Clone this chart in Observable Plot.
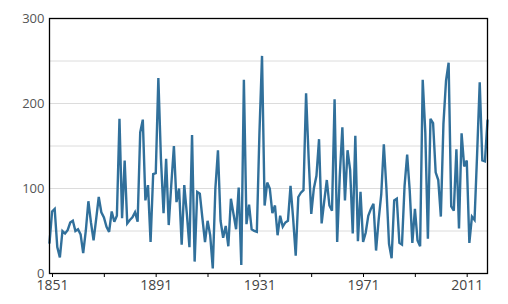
<!DOCTYPE html>
<html>
<head>
<meta charset="utf-8">
<script src="https://cdn.jsdelivr.net/npm/d3@7"></script>
<script src="https://cdn.jsdelivr.net/npm/@observablehq/plot@0.6"></script>
<style>
  html, body { margin: 0; padding: 0; background: #fff; }
  #chart svg { display: block; }
</style>
</head>
<body>
<div id="chart"></div>
<script>
// Years shown on the horizontal axis (one value per year)
const firstYear = 1851;
const lastYear = 2020;
const years = d3.range(firstYear, lastYear + 1);

// Series values, 1851 → 2020
const values = [
  36, 73, 76, 31, 19, 50, 47, 51, 60, 62,      // 1851-1860
  50, 52, 46, 24, 50, 85, 60, 39, 64, 90,      // 1861-1870
  72, 66, 55, 49, 73, 61, 68, 182, 65, 133,    // 1871-1880
  59, 63, 66, 72, 61, 166, 181, 86, 104, 37,   // 1881-1890
  117, 118, 230, 135, 71, 135, 57, 105, 150, 84, // 1891-1900
  100, 34, 104, 70, 31, 163, 14, 96, 94, 65,   // 1901-1910
  37, 62, 45, 6, 100, 145, 62, 42, 56, 32,     // 1911-1920
  88, 70, 52, 101, 10, 228, 58, 81, 52, 50,    // 1921-1930
  49, 165, 256, 80, 107, 100, 71, 80, 45, 68,  // 1931-1940
  55, 60, 62, 103, 65, 21, 90, 95, 98, 212,    // 1941-1950
  135, 70, 100, 115, 158, 59, 85, 110, 80, 74, // 1951-1960
  205, 37, 115, 172, 86, 145, 122, 47, 162, 38, // 1961-1970
  96, 37, 48, 68, 76, 82, 27, 63, 93, 152,     // 1971-1980
  100, 35, 18, 86, 88, 36, 34, 103, 140, 97,   // 1981-1990
  36, 76, 39, 32, 228, 166, 41, 182, 177, 119, // 1991-2000
  110, 67, 176, 227, 248, 79, 74, 146, 53, 165, // 2001-2010
  126, 133, 36, 67, 63, 141, 225, 133, 132, 180 // 2011-2020
];

// Axis ticks
const xTicks = [1851, 1871, 1891, 1911, 1931, 1951, 1971, 1991, 2011];
const xTickLabels = [1851, 1891, 1931, 1971, 2011];
const yTickLabels = [0, 100, 200, 300];
const yGridLines = [50, 100, 150, 200, 250];

const data = years.map((year, i) => ({year, value: values[i]}));

const chart = Plot.plot({
  width: 508,
  height: 304,
  marginLeft: 49,
  marginRight: 21,
  marginTop: 18,
  marginBottom: 31,
  style: {fontFamily: "'Open Sans', sans-serif", background: "#fff"},
  x: {domain: [firstYear, lastYear]},
  y: {domain: [0, 300]},
  marks: [
    Plot.gridY(yGridLines, {stroke: "#dcdcdc", strokeOpacity: 1, strokeWidth: 1}),
    Plot.lineY(data, {x: "year", y: "value", stroke: "#31709b", strokeWidth: 2.4, strokeLinejoin: "miter", strokeMiterlimit: 3}),
    Plot.frame({stroke: "#000", strokeWidth: 1.3}),
    Plot.axisX({
      ticks: xTicks,
      tickSize: 4,
      tickPadding: 3,
      tickFormat: d => xTickLabels.includes(d) ? String(d) : "",
      fontSize: 14,
      fill: "#444",
      stroke: "#000",
      dx: 3,
      label: null
    }),
    Plot.axisY({
      ticks: yTickLabels,
      tickSize: 0,
      tickPadding: 5,
      fontSize: 13,
      fill: "#555",
      dy: 0,
      label: null
    })
  ]
});
document.getElementById("chart").appendChild(chart);
</script>
</body>
</html>
